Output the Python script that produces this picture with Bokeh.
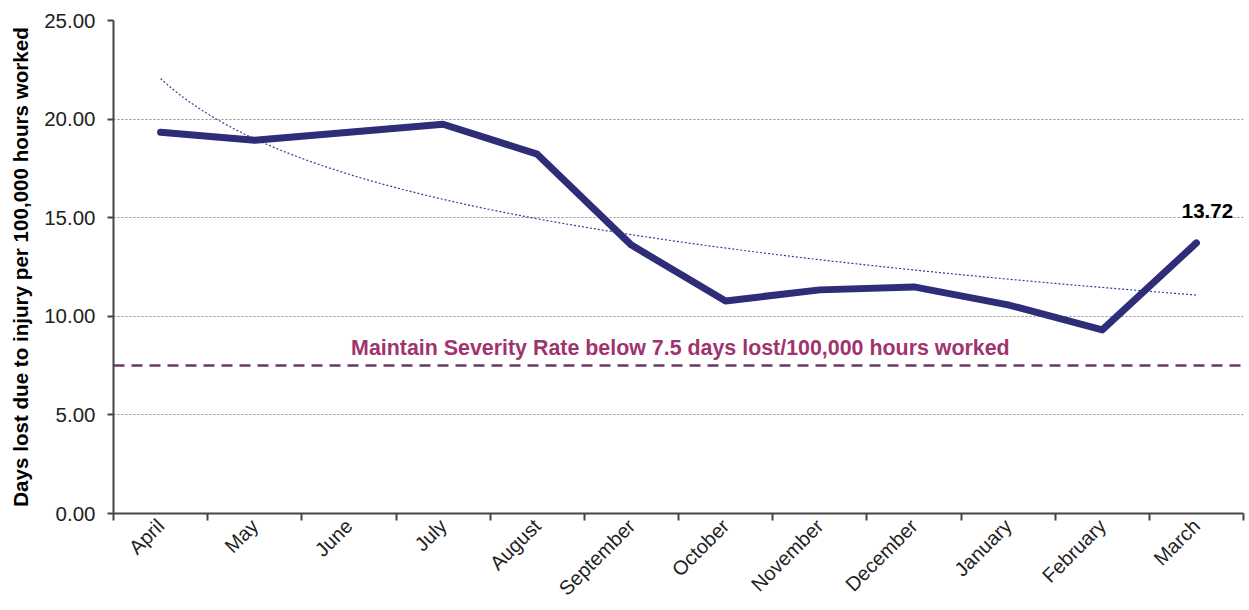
import numpy as np
from math import pi
from bokeh.plotting import figure
from bokeh.models import (FixedTicker, PrintfTickFormatter, Label, Range1d)
from bokeh.embed import file_html
from bokeh.resources import INLINE

# Monthly severity rate (days lost due to injury per 100,000 hours worked)
months = ["April", "May", "June", "July", "August", "September", "October",
          "November", "December", "January", "February", "March"]
severity = [19.33, 18.93, 19.33, 19.74, 18.22, 13.61, 10.78, 11.34, 11.49,
            10.58, 9.31, 13.72]
target_rate = 7.5
target_text = "Maintain Severity Rate below 7.5 days lost/100,000 hours worked"
y_ticks = [0, 5, 10, 15, 20, 25]

FONT = "Liberation Sans"

xs = list(range(1, len(months) + 1))

p = figure(width=1249, height=610, output_backend="svg", toolbar_location=None,
           x_range=Range1d(0.5, len(months) + 0.5), y_range=Range1d(0, 25),
           min_border_left=113, min_border_right=6, min_border_top=20,
           min_border_bottom=96)
p.outline_line_color = None
p.background_fill_color = "white"
p.border_fill_color = "white"

# horizontal dotted gridlines only
p.xgrid.grid_line_color = None
p.ygrid.grid_line_color = "#8c8c8c"
p.ygrid.grid_line_dash = "2 2"
p.ygrid.grid_line_width = 1

# y axis
p.yaxis.ticker = FixedTicker(ticks=y_ticks)
p.yaxis.formatter = PrintfTickFormatter(format="%.2f")
p.yaxis.axis_label = "Days lost due to injury per 100,000 hours worked"
p.yaxis.axis_label_text_font = FONT
p.yaxis.axis_label_text_font_style = "bold"
p.yaxis.axis_label_text_font_size = "20.6px"
p.yaxis.axis_label_text_color = "black"
p.yaxis.axis_label_standoff = 9
p.yaxis.major_label_text_font = FONT
p.yaxis.major_label_text_font_size = "20.5px"
p.yaxis.major_label_text_color = "#222222"
p.yaxis.major_label_standoff = 12
p.yaxis.major_tick_out = 6
p.yaxis.major_tick_in = 0
p.yaxis.minor_tick_out = 0
p.yaxis.minor_tick_in = 0

# x axis: labels at category centres, ticks at category boundaries
p.xaxis.ticker = FixedTicker(ticks=xs,
                             minor_ticks=[x - 0.5 for x in xs] + [len(xs) + 0.5])
p.xaxis.major_label_overrides = {x: m for x, m in zip(xs, months)}
p.xaxis.major_label_orientation = pi / 4
p.xaxis.major_label_text_font = FONT
p.xaxis.major_label_text_font_size = "20px"
p.xaxis.major_label_text_color = "#222222"
p.xaxis.major_label_standoff = 2
p.xaxis.major_tick_out = 0
p.xaxis.major_tick_in = 0
p.xaxis.minor_tick_out = 7
p.xaxis.minor_tick_in = 0
p.xaxis.minor_tick_line_color = "#444444"
p.xaxis.minor_tick_line_width = 2

for ax in (p.xaxis, p.yaxis):
    ax.axis_line_color = "#444444"
    ax.axis_line_width = 2
    ax.major_tick_line_color = "#444444"
    ax.major_tick_line_width = 2

# target line
p.line([0.5, len(xs) + 0.5], [target_rate, target_rate], line_color="#6b3a66",
       line_width=2.5, line_dash="11 7")
p.add_layout(Label(x=6.52, y=target_rate, y_offset=18, text=target_text,
                   text_font=FONT, text_font_size="21.4px", text_font_style="bold",
                   text_color="#a0336e", text_align="center",
                   text_baseline="middle"))

# logarithmic trend fitted to the monthly values
b, a = np.polyfit(np.log(xs), severity, 1)
tx = np.linspace(1, len(xs), 200)
p.line(tx, a + b * np.log(tx), line_color="#3a3a9a", line_width=1.2,
       line_dash="2 2")

# monthly series
p.line(xs, severity, line_color="#2d2d78", line_width=7, line_join="round",
       line_cap="round")

p.add_layout(Label(x=xs[-1], y=severity[-1], x_offset=11, y_offset=32,
                   text=f"{severity[-1]:.2f}", text_font=FONT,
                   text_font_size="20.5px", text_font_style="bold",
                   text_color="black", text_align="center",
                   text_baseline="middle"))

open("out.html", "w").write(file_html(p, INLINE))
